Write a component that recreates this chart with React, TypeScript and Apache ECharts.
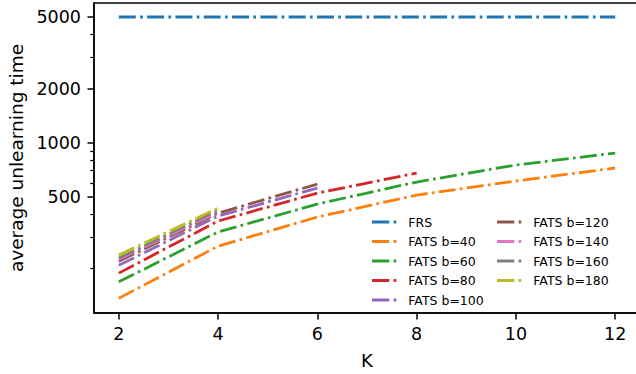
import React, { useEffect, useRef } from "react";
import * as echarts from "echarts";

const K = [2, 4, 6, 8, 10, 12];
const frs = [5000, 5000, 5000, 5000, 5000, 5000];
const b40 = [137, 267, 387, 513, 614, 725];
const b60 = [169, 320, 457, 606, 753, 878];
const b80 = [189, 368, 526, 680];
const b100 = [209, 392, 561];
const b120 = [220, 407, 590];
const b140 = [226, 413];
const b160 = [229, 423];
const b180 = [238, 434];

const names = [
  "FRS",
  "FATS b=40",
  "FATS b=60",
  "FATS b=80",
  "FATS b=100",
  "FATS b=120",
  "FATS b=140",
  "FATS b=160",
  "FATS b=180",
];
const values = [frs, b40, b60, b80, b100, b120, b140, b160, b180];
const colors = [
  "#1f77b4",
  "#ff7f0e",
  "#2ca02c",
  "#d62728",
  "#9467bd",
  "#8c564b",
  "#e377c2",
  "#7f7f7f",
  "#bcbd22",
];

const xTicks = [2, 4, 6, 8, 10, 12];
const yMajor = [500, 1000, 2000, 5000];
const yMinor = [200, 300, 400, 600, 700, 800, 900, 3000, 4000];

const FONT = "DejaVu Sans";
const DASHDOT_ICON = "path://M0,0h17.3v2.8h-17.3z M21.6,0h2.7v2.8h-2.7z";

export default function App() {
  const ref = useRef<HTMLDivElement>(null);
  useEffect(() => {
    if (!ref.current) return;
    const chart = echarts.init(ref.current, null, { renderer: "svg" });
    const series = names.map((n, i) => ({
      name: n,
      type: "line",
      data: values[i].map((v, j) => [K[j], v]),
      yAxisIndex: 0,
      symbol: "none",
      color: colors[i],
      lineStyle: { width: 2.8, type: [17, 4.3, 2.7, 4.3], cap: "butt", color: colors[i] },
      emphasis: { disabled: true },
    }));
    const legendBase = {
      orient: "vertical",
      padding: 0,
      itemWidth: 24.3,
      itemHeight: 2.8,
      itemGap: 5.5,
      icon: DASHDOT_ICON,
      textStyle: {
        fontSize: 12.5,
        lineHeight: 14,
        fontFamily: FONT,
        color: "#000",
        padding: [0, 0, 0, 7],
      },
      selectedMode: false,
    };
    chart.setOption({
      animation: false,
      backgroundColor: "#fff",
      grid: {
        left: 94,
        top: 3,
        width: 546,
        height: 310,
        show: true,
        borderColor: "#000",
        borderWidth: 1.5,
        backgroundColor: "transparent",
        outerBoundsMode: "none",
        containLabel: false,
      },
      legend: [
        { ...legendBase, left: 372, top: 215, data: names.slice(0, 5) },
        { ...legendBase, left: 497, top: 215, data: names.slice(5) },
      ],
      xAxis: {
        type: "value",
        min: 1.5,
        max: 12.5,
        name: "K",
        nameLocation: "middle",
        nameGap: 38,
        nameTextStyle: { fontSize: 18, fontFamily: FONT, color: "#000" },
        axisLine: { show: true, onZero: false, lineStyle: { color: "#000", width: 1.5 } },
        axisTick: { show: true, length: 6.5, customValues: xTicks, lineStyle: { color: "#000", width: 1.5 } },
        axisLabel: { customValues: xTicks, margin: 12, fontSize: 17.5, fontFamily: FONT, color: "#000" },
        splitLine: { show: false },
      },
      yAxis: [
        {
          type: "log",
          logBase: 10,
          min: 113.5,
          max: 5980,
          name: "average unlearning time",
          nameLocation: "middle",
          nameGap: 67,
          nameTextStyle: { fontSize: 18.5, fontFamily: FONT, color: "#000" },
          axisLine: { show: true, lineStyle: { color: "#000", width: 1.5 } },
          axisTick: { show: true, length: 6.5, customValues: yMajor, lineStyle: { color: "#000", width: 1.5 } },
          axisLabel: {
            customValues: yMajor,
            margin: 13,
            fontSize: 17.5,
            fontFamily: FONT,
            color: "#000",
            formatter: (v: number) => String(Math.round(v)),
          },
          splitLine: { show: false },
          minorTick: { show: false },
        },
        {
          type: "log",
          logBase: 10,
          min: 113.5,
          max: 5980,
          position: "left",
          axisLine: { show: false },
          axisTick: { show: true, length: 3.7, customValues: yMinor, lineStyle: { color: "#000", width: 1.2 } },
          axisLabel: { show: false },
          splitLine: { show: false },
        },
      ],
      series,
    });
    return () => chart.dispose();
  }, []);
  return <div ref={ref} style={{ width: 636, height: 374, position: "absolute", left: 0, top: 0 }} />;
}
